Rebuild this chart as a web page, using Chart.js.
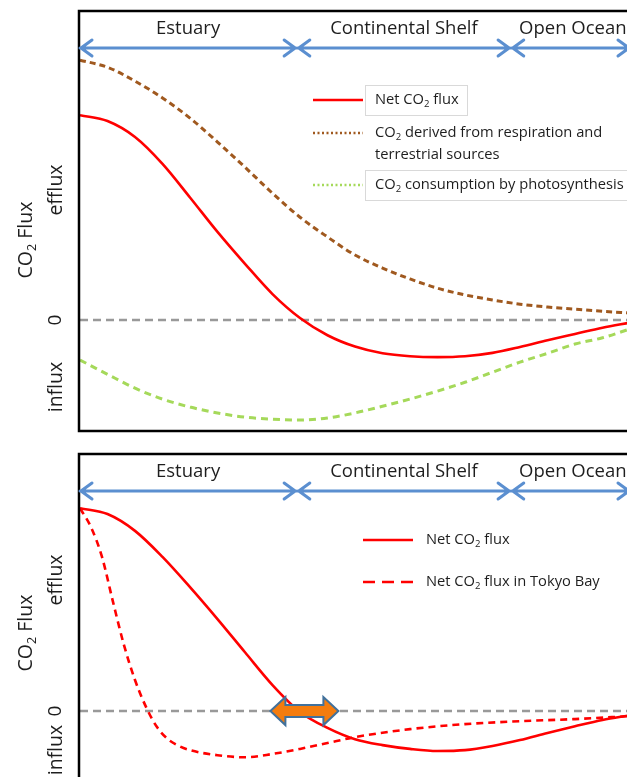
<!DOCTYPE html>
<html lang="en">
  <head>
    <meta charset="UTF-8" />
    <title>CO2 Flux</title>
    <script src="https://cdn.jsdelivr.net/npm/chart.js"></script>
    <style>
      html,
      body {
        margin: 0;
        padding: 0;
        background: #fff;
        overflow: hidden;
        width: 627px;
        height: 777px;
      }
      canvas {
        position: absolute;
        left: 0;
      }
      #topChart {
        top: 0;
      }
      #bottomChart {
        top: 444px;
      }
    </style>
  </head>
  <body>
    <canvas id="topChart" width="640" height="440"></canvas>
    <canvas id="bottomChart" width="640" height="400"></canvas>

    <script>
      // distance from the river mouth (0 - 100) and flux values
      const xSteps = [0, 5, 10, 15, 20, 25, 30, 35, 40, 45, 50, 55, 60, 65, 70, 75, 80, 85, 90, 95, 100];
      const netFluxTop = [4.88, 4.74, 4.36, 3.72, 2.92, 2.1, 1.34, 0.62, 0.05, -0.36, -0.63, -0.79, -0.86, -0.88, -0.86, -0.78, -0.64, -0.48, -0.33, -0.18, -0.06];
      const respirationTop = [6.19, 6.02, 5.69, 5.29, 4.81, 4.24, 3.64, 3.02, 2.45, 1.98, 1.55, 1.24, 0.98, 0.76, 0.6, 0.48, 0.38, 0.31, 0.26, 0.21, 0.17];
      const photosynthesisTop = [-0.95, -1.29, -1.62, -1.88, -2.07, -2.21, -2.31, -2.36, -2.38, -2.33, -2.21, -2.05, -1.88, -1.69, -1.48, -1.24, -1.0, -0.79, -0.57, -0.42, -0.21];
      const netFluxBottom = [4.83, 4.69, 4.29, 3.67, 2.95, 2.19, 1.4, 0.62, -0.02, -0.4, -0.67, -0.81, -0.9, -0.95, -0.93, -0.83, -0.69, -0.52, -0.36, -0.21, -0.1];
      const xTokyo = [0, 2, 4, 6, 8, 10, 12, 14, 16, 18, 20, 25, 30, 35, 40, 45, 50, 60, 70, 80, 90, 100];
      const tokyoBay = [4.83, 4.38, 3.67, 2.6, 1.57, 0.74, 0.1, -0.38, -0.67, -0.83, -0.93, -1.05, -1.1, -1.02, -0.9, -0.76, -0.62, -0.43, -0.31, -0.24, -0.19, -0.12];

      // zones along the x axis
      const regions = ["Estuary", "Continental Shelf", "Open Ocean"];
      const regionStart = [0, 39.6, 78.5];
      const regionEnd = [39.3, 78.2, 100];
      const tokyoArrowX = 40.8;

      const FONT = '"Open Sans", "DejaVu Sans", sans-serif';
      const RED = "#ff0000";
      const BROWN = "#a0591f";
      const GREEN = "#a5d95a";
      const BLUE = "#5b8fd0";

      function toPoints(xs, ys) {
        return xs.map((x, i) => ({ x: x, y: ys[i] }));
      }

      // parts: even index = normal text, odd index = subscript
      function richWidth(ctx, parts, size) {
        let w = 0;
        parts.forEach((p, i) => {
          ctx.font = (i % 2 ? size * 0.65 : size) + "px " + FONT;
          w += ctx.measureText(p).width;
        });
        return w;
      }

      function drawRich(ctx, parts, x, y, size) {
        ctx.textBaseline = "middle";
        ctx.textAlign = "left";
        parts.forEach((p, i) => {
          const sub = i % 2 === 1;
          ctx.font = (sub ? size * 0.65 : size) + "px " + FONT;
          ctx.fillText(p, x, sub ? y + size * 0.32 : y);
          x += ctx.measureText(p).width;
        });
      }

      function drawRotated(ctx, parts, cx, cy, size) {
        ctx.save();
        ctx.translate(cx, cy);
        ctx.rotate(-Math.PI / 2);
        drawRich(ctx, parts, -richWidth(ctx, parts, size) / 2, 0, size);
        ctx.restore();
      }

      function hArrow(ctx, x1, x2, y) {
        ctx.save();
        ctx.strokeStyle = BLUE;
        ctx.lineWidth = 3;
        ctx.lineCap = "round";
        ctx.lineJoin = "round";
        ctx.beginPath();
        ctx.moveTo(x1, y);
        ctx.lineTo(x2, y);
        ctx.moveTo(x1 + 12, y - 8);
        ctx.lineTo(x1 + 1, y);
        ctx.lineTo(x1 + 12, y + 8);
        ctx.moveTo(x2 - 12, y - 8);
        ctx.lineTo(x2 - 1, y);
        ctx.lineTo(x2 - 12, y + 8);
        ctx.stroke();
        ctx.restore();
      }

      const overlay = {
        id: "overlay",
        beforeDatasetsDraw(chart, args, opts) {
          const ctx = chart.ctx;
          const a = chart.chartArea;
          const y0 = chart.scales.y.getPixelForValue(0);
          ctx.save();
          ctx.strokeStyle = "#999";
          ctx.lineWidth = 2.5;
          ctx.setLineDash([8, 5]);
          ctx.beginPath();
          ctx.moveTo(a.left, y0);
          ctx.lineTo(a.right, y0);
          ctx.stroke();
          ctx.restore();
        },
        afterDatasetsDraw(chart, args, opts) {
          const ctx = chart.ctx;
          const a = chart.chartArea;
          const xs = chart.scales.x;
          const y0 = chart.scales.y.getPixelForValue(0);

          // frame
          ctx.save();
          ctx.strokeStyle = "#000";
          ctx.lineWidth = 2.5;
          ctx.strokeRect(a.left - 1, a.top, a.right - a.left + 1, a.bottom - a.top);
          ctx.restore();

          // zones
          ctx.fillStyle = "#1e1e1e";
          regions.forEach((r, i) => {
            const x1 = xs.getPixelForValue(regionStart[i]);
            const x2 = xs.getPixelForValue(regionEnd[i]);
            hArrow(ctx, x1, x2, a.top + 37);
            ctx.font = "18.5px " + FONT;
            const w = ctx.measureText(r).width;
            drawRich(ctx, [r], (x1 + x2) / 2 - w / 2 + (i === 2 ? 2 : 0), a.top + 18, 18.5);
          });

          // y axis words
          ctx.fillStyle = "#1e1e1e";
          drawRotated(ctx, ["CO", "2", " Flux"], 26, opts.fluxY, 19.5);
          drawRotated(ctx, ["efflux"], 56, opts.effluxY, 19.5);
          drawRotated(ctx, ["0"], 56, y0, 19);
          drawRotated(ctx, ["influx"], 56, opts.influxY, 19.5);

          // legend
          opts.legend.forEach((item) => {
            ctx.save();
            if (item.box) {
              ctx.strokeStyle = "#d9d9d9";
              ctx.lineWidth = 1;
              ctx.strokeRect(item.box[0] + 0.5, item.box[1] + 0.5, item.box[2], item.box[3]);
            }
            ctx.strokeStyle = item.color;
            ctx.lineWidth = item.width;
            ctx.setLineDash(item.dash);
            ctx.beginPath();
            ctx.moveTo(item.x, item.y);
            ctx.lineTo(item.x + 50, item.y);
            ctx.stroke();
            ctx.restore();
            ctx.fillStyle = "#1e1e1e";
            item.lines.forEach((ln, k) => {
              drawRich(ctx, ln, item.textX, item.y + k * 22, 14.7);
            });
          });

          // orange double arrow (Tokyo Bay shift)
          if (opts.shiftArrow) {
            const cx = xs.getPixelForValue(tokyoArrowX);
            const pts = [[-34, 0], [-19, -14], [-19, -6], [19, -6], [19, -14], [34, 0], [19, 14], [19, 6], [-19, 6], [-19, 14]];
            ctx.save();
            ctx.beginPath();
            pts.forEach((p, i) => (i ? ctx.lineTo(cx + p[0], y0 + p[1]) : ctx.moveTo(cx + p[0], y0 + p[1])));
            ctx.closePath();
            ctx.fillStyle = "#f47c0e";
            ctx.fill();
            ctx.strokeStyle = "#41719c";
            ctx.lineWidth = 2;
            ctx.lineJoin = "miter";
            ctx.stroke();
            ctx.restore();
          }
        },
      };

      function lineSet(label, xs, ys, color, width, dash) {
        return {
          label: label,
          data: toPoints(xs, ys),
          borderColor: color,
          borderWidth: width,
          borderDash: dash,
          pointRadius: 0,
          fill: false,
          cubicInterpolationMode: "monotone",
        };
      }

      function makeChart(id, datasets, yMin, yMax, padding, overlayOpts) {
        return new Chart(document.getElementById(id), {
          type: "line",
          data: { datasets: datasets },
          options: {
            responsive: false,
            animation: false,
            layout: { padding: padding },
            scales: {
              x: { type: "linear", min: 0, max: 100, display: false },
              y: { min: yMin, max: yMax, display: false },
            },
            plugins: {
              legend: { display: false },
              tooltip: { enabled: false },
              overlay: overlayOpts,
            },
          },
          plugins: [overlay],
        });
      }

      // Top panel: net flux with its two components
      makeChart(
        "topChart",
        [
          lineSet("CO2 derived from respiration and terrestrial sources", xSteps, respirationTop, BROWN, 3, [6, 4]),
          lineSet("CO2 consumption by photosynthesis", xSteps, photosynthesisTop, GREEN, 3, [7, 5]),
          lineSet("Net CO2 flux", xSteps, netFluxTop, RED, 2.6, []),
        ],
        -2.64,
        7.36,
        { left: 80, top: 11, right: 10, bottom: 9 },
        {
          fluxY: 240,
          effluxY: 190,
          influxY: 387,
          legend: [
            { x: 313, y: 100, color: RED, width: 2.5, dash: [], textX: 375, box: [365, 85, 102, 30], lines: [["Net CO", "2", " flux"]] },
            { x: 313, y: 133, color: BROWN, width: 2.5, dash: [2, 2.5], textX: 375, lines: [["CO", "2", " derived from respiration and"], ["terrestrial sources"]] },
            { x: 313, y: 185, color: GREEN, width: 2.5, dash: [2, 2.5], textX: 375, box: [365, 170, 290, 30], lines: [["CO", "2", " consumption by photosynthesis"]] },
          ],
        }
      );

      // Bottom panel: typical net flux vs Tokyo Bay
      makeChart(
        "bottomChart",
        [
          lineSet("Net CO2 flux in Tokyo Bay", xTokyo, tokyoBay, RED, 2.6, [7, 5]),
          lineSet("Net CO2 flux", xSteps, netFluxBottom, RED, 2.6, []),
        ],
        -2.64,
        6.12,
        { left: 80, top: 10, right: 10, bottom: 22 },
        {
          fluxY: 633 - 444,
          effluxY: 580 - 444,
          influxY: 750 - 444,
          shiftArrow: true,
          legend: [
            { x: 363, y: 540 - 444, color: RED, width: 2.5, dash: [], textX: 426, lines: [["Net CO", "2", " flux"]] },
            { x: 363, y: 582 - 444, color: RED, width: 2.5, dash: [12, 7], textX: 426, lines: [["Net CO", "2", " flux in Tokyo Bay"]] },
          ],
        }
      );
    </script>
  </body>
</html>
